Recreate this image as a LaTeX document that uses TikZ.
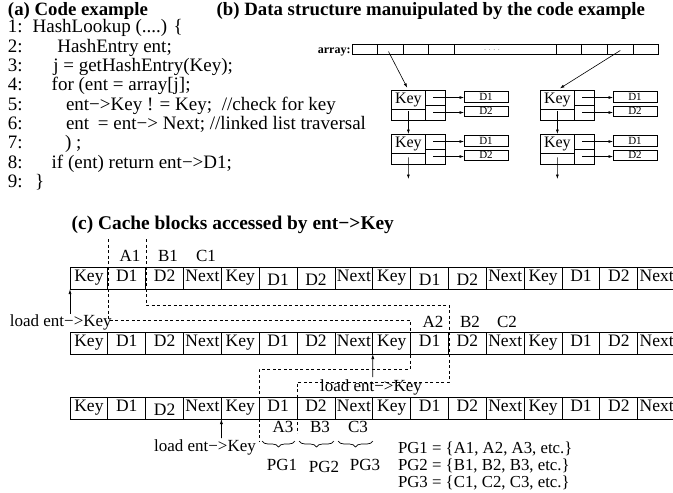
\documentclass[tikz,border=0pt]{standalone}
\usepackage{fontspec}
\setmainfont{Liberation Serif}
\usetikzlibrary{arrows.meta,decorations.pathreplacing,calc}
\newcommand\listnode[3]{%
  \node[lcell,minimum width=34.7pt,minimum height=19.3pt,font=\fontsize{16}{16}\selectfont] (#1-k) at (#2,#3) {Key};
  \node[lcell,minimum width=34.7pt,minimum height=10.7pt] (#1-b) at (#2,#3+19.3) {};
  \node[lcell,minimum width=19.3pt,minimum height=15pt] (#1-p1) at (#2+34.7,#3) {};
  \node[lcell,minimum width=19.3pt,minimum height=15pt] (#1-p2) at (#2+34.7,#3+15) {};
  \node[lcell,minimum width=44pt,minimum height=11pt,font=\fontsize{11}{11}\selectfont] (#1-d1) at (#2+73,#3+1.7) {D1};
  \node[lcell,minimum width=44pt,minimum height=10.7pt,font=\fontsize{11}{11}\selectfont] (#1-d2) at (#2+73,#3+16) {D2};
  \draw[sarr] ($(#1-p1.west)+(7.5,0)$) -- (#1-p1.center -| #1-d1.west);
  \draw[sarr] ($(#1-p2.west)+(7.5,0)$) -- (#1-p2.center -| #1-d2.west);
}
% cells whose text sits a little lower in the reference
\expandafter\def\csname lowcell1-5\endcsname{}
\expandafter\def\csname lowcell1-6\endcsname{}
\expandafter\def\csname lowcell1-9\endcsname{}
\expandafter\def\csname lowcell1-10\endcsname{}
\expandafter\def\csname lowcell3-2\endcsname{}
\begin{document}
\begin{tikzpicture}[x=1pt,y=-1pt,
  every node/.style={inner sep=0pt,outer sep=0pt},
  code/.style={anchor=base west,font=\fontsize{19}{19}\selectfont},
  head/.style={anchor=base west,font=\fontsize{18.8}{19}\selectfont\bfseries},
  cell/.style={draw,line width=0.9pt,minimum width=37.85pt,minimum height=22pt,anchor=north west,
    text height=12pt,text depth=3pt,font=\fontsize{17.5}{18}\selectfont},
  lcell/.style={draw,line width=0.7pt,anchor=north west},
  lbl/.style={font=\fontsize{17}{17}\selectfont},
  grp/.style={dash pattern=on 3pt off 2.5pt,line width=0.7pt},
  arr/.style={-{Latex[length=5pt,width=3pt]},line width=0.7pt},
  sarr/.style={-{Latex[length=4.5pt,width=3pt]},line width=0.6pt},
  brc/.style={decorate,decoration={brace,mirror,amplitude=6pt},line width=0.7pt}
]
\useasboundingbox (0,0) rectangle (673,493);

% ---------- (a) code ----------
\node[head] (ha) at (8,15.1) {(a) Code example};
\node[code] (n1) at (8,32.8) {1:};
\node[code] (t1) at (32.7,32.8) {HashLookup (....) \{};
\node[code] (n2) at (8,52) {2:};
\node[code] (t2) at (57.3,52) {HashEntry ent;};
\node[code] (n3) at (8,71.3) {3:};
\node[code] (t3) at (53.3,71.3) {j = getHashEntry(Key);};
\node[code] (n4) at (8,90.7) {4:};
\node[code] (t4) at (51.7,90.7) {for (ent = array[j];};
\node[code] (n5) at (8,110) {5:};
\node[code] (t5) at (66,110) {ent−>Key ! = Key;\hspace{5pt} //check for key};
\node[code] (n6) at (8,129.4) {6:};
\node[code] (t6) at (66,129.4) {ent\hspace{4pt} = ent−> Next; //linked list traversal};
\node[code] (n7) at (8,148.8) {7:};
\node[code] (t7) at (65,148.8) {) ;};
\node[code] (n8) at (8,168.2) {8:};
\node[code] (t8) at (51.7,168.2) {if (ent) return ent−>D1;};
\node[code] (n9) at (8,187.6) {9:};
\node[code] (t9) at (35,187.6) {\}};

% ---------- (b) data structure ----------
\node[head] (hb) at (216.7,15.1) {(b) Data structure manuipulated by the code example};
\node[anchor=base east,font=\fontsize{12}{12}\selectfont\bfseries] (arrlbl) at (350.5,53) {array:};
\foreach \a/\b [count=\k] in {352/377.7,377.7/403.3,403.3/428.3,428.3/454.3,454.3/556,556/581.7,581.7/607.3,607.3/633.3,633.3/658.3}{
  \node[lcell,minimum width={\b-\a},minimum height=10pt] (a\k) at (\a,44.5) {};
}
\node[font=\fontsize{8}{8}\selectfont,text=gray,anchor=base] (dots) at (492,50) {. . . .};

\listnode{la}{391}{90}
\listnode{lb}{391}{134}
\listnode{lc}{540}{90}
\listnode{ld}{540}{134}
\draw[sarr,shorten >=2.5pt] ($(a2.center)+(-2,2)$) -- (la-k.north);
\draw[sarr,shorten >=3pt] ($(a8.center)+(0,1)$) -- (lc-k.north);
\draw[sarr] ($(la-b.north)+(0,2)$) -- (lb-k.north);
\draw[sarr] ($(lc-b.north)+(0,2)$) -- (ld-k.north);
\coordinate (lbend) at (408.35,179);
\coordinate (ldend) at (557.35,179);
\draw[sarr] ($(lb-b.north)+(0,4)$) -- (lbend);
\draw[sarr] ($(ld-b.north)+(0,4)$) -- (ldend);

% ---------- (c) cache blocks ----------
\node[head,font=\fontsize{19.4}{20}\selectfont\bfseries] (hc) at (71.7,229) {(c) Cache blocks accessed by ent−>Key};
\foreach \r/\T in {1/267,2/332,3/397}{
  \foreach \t [count=\i from 0] in {Key,D1,D2,Next,Key,D1,D2,Next,Key,D1,D2,Next,Key,D1,D2,Next}{
    \node[cell] (r\r-\i) at ({70+37.85*\i},\T)
      {\ifcsname lowcell\r-\i\endcsname\raisebox{-2.5pt}{\t}\else\raisebox{0.8pt}{\t}\fi};
  }
}
% group labels
\node[lbl] (A1) at (130,256) {A1};
\node[lbl] (B1) at (168,256) {B1};
\node[lbl] (C1) at (206,256) {C1};
\node[lbl] (A2) at (433,322) {A2};
\node[lbl] (B2) at (470,322) {B2};
\node[lbl] (C2) at (507,322) {C2};
\node[lbl] (A3) at (283,427) {A3};
\node[lbl] (B3) at (320,427) {B3};
\node[lbl] (C3) at (358,427) {C3};

% dashed group boundaries
\draw[grp] (108,239) |- (410,320) |- (259,369) -- (259,441);
\draw[grp] (146,239) |- (449,305) |- (297,382) -- (297,433);

% load labels and arrows
\node[lbl] (ld1) at (60.8,322) {load ent−>Key};
\node[lbl] (ld2) at (371,387) {load ent−>Key};
\node[lbl] (ld3) at (205,447) {load ent−>Key};
\coordinate (s1) at (70,314);
\coordinate (s2) at (372.8,377);
\coordinate (s3) at (221.4,438);
\draw[arr] (s1) -- (r1-0.south west);
\draw[arr] (s2) -- (r2-8.south west);
\draw[arr] (s3) -- (r3-4.south west);

% braces
\draw[brc] (262,441) -- (295,441);
\draw[brc] (299,441) -- (334,441);
\draw[brc] (338,441) -- (373,441);
\node[lbl] (pg1) at (282,465) {PG1};
\node[lbl] (pg2) at (324,467) {PG2};
\node[lbl] (pg3) at (365,465) {PG3};

\node[anchor=base west,font=\fontsize{16.8}{17}\selectfont] (def1) at (398,453.5) {PG1 = \{A1, A2, A3, etc.\}};
\node[anchor=base west,font=\fontsize{16.8}{17}\selectfont] (def2) at (398,470.3) {PG2 = \{B1, B2, B3, etc.\}};
\node[anchor=base west,font=\fontsize{16.8}{17}\selectfont] (def3) at (398,487) {PG3 = \{C1, C2, C3, etc.\}};
\end{tikzpicture}
\end{document}
